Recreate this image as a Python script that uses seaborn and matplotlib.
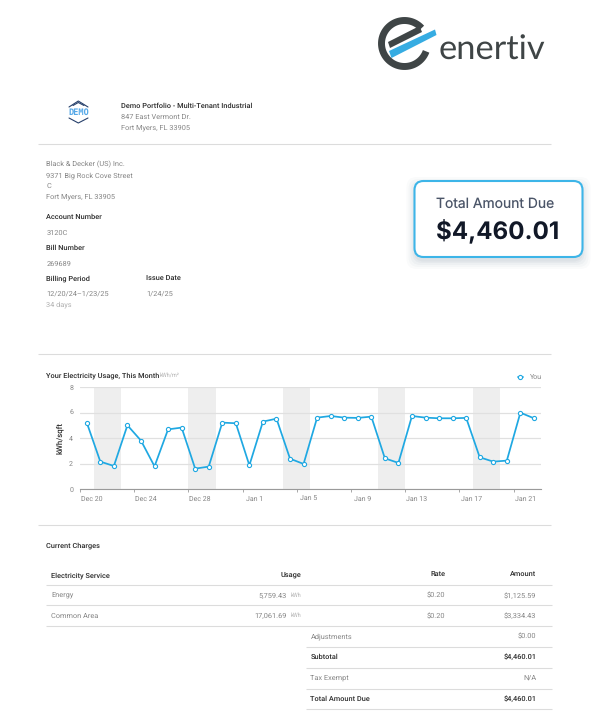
import numpy as np
import pandas as pd
import matplotlib
matplotlib.use("Agg")
import matplotlib.pyplot as plt
from matplotlib.patches import FancyBboxPatch, Polygon
import seaborn as sns

# ---- data ----
days = list(range(34))
usage = [5.23, 2.17, 1.83, 5.02, 3.82, 1.80, 4.70, 4.84, 1.62, 1.78, 5.23, 5.18,
         1.88, 5.31, 5.54, 2.40, 1.99, 5.62, 5.75, 5.62, 5.60, 5.70, 2.43, 2.07,
         5.75, 5.62, 5.57, 5.57, 5.60, 2.51, 2.17, 2.25, 6.01, 5.57]
weekend_days = [1, 2, 8, 9, 15, 16, 22, 23, 29, 30]
tick_days = [0, 4, 8, 12, 16, 20, 24, 28, 32]
tick_labels = ["Dec 20", "Dec 24", "Dec 28", "Jan 1", "Jan 5", "Jan 9", "Jan 13", "Jan 17", "Jan 21"]
y_ticks = [0, 2, 4, 6, 8]

site_lines = ["847 East Vermont Dr.", "Fort Myers, FL 33905"]
tenant_lines = ["Black & Decker (US) Inc.", "9371 Big Rock Cove Street", "C", "Fort Myers, FL 33905"]
service_rows = [("Energy", "5,759.43", "$0.20", "$1,125.59"),
                ("Common Area", "17,061.69", "$0.20", "$3,334.43")]
summary_rows = [("Adjustments", "$0.00", False), ("Subtotal", "$4,460.01", True),
                ("Tax Exempt", "N/A", False), ("Total Amount Due", "$4,460.01", True)]

# ---- style ----
W, H = 604, 726
BLUE = "#1fa8e2"
DARK = "#2b2b2b"
GREY = "#858585"
RULE = "#dcdcdc"
sns.set_theme(style="white")
plt.rcParams["font.family"] = ["Roboto", "DejaVu Sans"]
plt.rcParams["text.hinting"] = "no_hinting"
plt.rcParams["text.hinting_factor"] = 8

fig = plt.figure(figsize=(W / 100, H / 100), dpi=100, facecolor="white")

# page layer in pixel coordinates
page = fig.add_axes([0, 0, 1, 1], zorder=0)
page.set_xlim(0, W)
page.set_ylim(H, 0)
page.axis("off")

BODY = 5.3


def txt(x, y, s, size=BODY, color=GREY, weight="normal", ha="left", **kw):
    page.text(x, y + 0.49 * size, s, fontsize=size, color=color, fontweight=weight, ha=ha, va="baseline", **kw)


def rule(y, x0=37.5, x1=551, color=RULE, lw=0.8):
    page.plot([x0, x1], [y, y], color=color, lw=lw, solid_capstyle="butt")


# enertiv logo
LOGO_DARK = "#3f4546"
theta = np.radians(np.linspace(-20, -318, 80))
arc_x = 404.5 + 23 * np.cos(theta)
arc_y = 43.5 - 23 * np.sin(theta)
page.plot(arc_x, arc_y, color=LOGO_DARK, lw=5.0, solid_capstyle="butt")
page.add_patch(Polygon([[419.5, 26], [422, 32], [390, 48], [388, 42]], closed=True, fc=LOGO_DARK, ec="none"))
page.add_patch(Polygon([[389, 51], [435, 29.5], [436.5, 35], [391.5, 58]], closed=True, fc="#36ace2", ec="none"))
page.text(438.5, 59.5, "enertiv", fontsize=24.8, color=LOGO_DARK, family="Lato", fontweight="normal", ha="left", va="baseline")

# demo badge
NAVY = "#27406b"
for pts in ([(69, 107), (78.3, 101), (88, 107)], [(73, 105.5), (78.3, 102.5), (84, 105.5)],
            [(69, 118), (78.3, 123), (88, 118)]):
    page.plot(*zip(*pts), color=NAVY, lw=0.8)
txt(78.3, 112, "DEMO", size=6.2, color="#55a8e8", weight="bold", ha="center", family="DejaVu Sans Mono")

# header block
STRONG = "medium"
txt(121, 105.5, "Demo Portfolio - Multi-Tenant Industrial", color=DARK, weight=STRONG)
for y, s in zip([116, 126.5], site_lines):
    txt(121, y, s)
rule(144)
for y, s in zip([164, 175, 185.5, 196], tenant_lines):
    txt(46.5, y, s)
txt(46.5, 216.7, "Account Number", color=DARK, weight=STRONG)
txt(46.5, 232, "3120C")
txt(46.5, 247, "Bill Number", color=DARK, weight=STRONG)
txt(46.5, 263, "269689")
txt(46.5, 278, "Billing Period", color=DARK, weight=STRONG)
txt(146.3, 278, "Issue Date", color=DARK, weight=STRONG)
txt(46.5, 293, "12/20/24\u20131/23/25")
txt(146.3, 293, "1/24/25")
txt(46.5, 303.5, "34 days", color="#b0b0b0")

# amount card
for grow, alpha in zip([9, 7, 5, 3, 1.5], [0.02, 0.025, 0.03, 0.035, 0.04]):
    page.add_patch(FancyBboxPatch((414.5 - grow + 1, 181 - grow + 5), 168 + 2 * grow - 2, 76 + 2 * grow - 2,
                                  boxstyle="round,pad=0,rounding_size=10", fc="#1f3a5a", ec="none", alpha=alpha))
page.add_patch(FancyBboxPatch((414.5, 181), 168, 76, boxstyle="round,pad=0,rounding_size=9",
                              fc="white", ec="#3db5e8", lw=1.5))
txt(436, 203, "Total Amount Due", size=10, color="#4b5568", family="Inter")
txt(436, 230.5, "$4,460.01", size=17.4, color="#111827", weight="bold", family="Inter")

# chart section
rule(354)
rule(525)
txt(46.5, 374.5, "Your Electricity Usage, This Month", color=DARK, weight=STRONG)
txt(160, 374.5, "kWh/m\u00b2", size=4.0, color="#b0b0b0")

# charges table
txt(46.5, 545, "Current Charges", color=DARK, weight=STRONG)
txt(51, 574.5, "Electricity Service", color=DARK, weight=STRONG)
txt(301, 574.5, "Usage", color=DARK, weight=STRONG, ha="right")
txt(445, 574.5, "Rate", color=DARK, weight=STRONG, ha="right")
txt(536.5, 574.5, "Amount", color=DARK, weight=STRONG, ha="right")
rule(584.5, 46, 552)
for y, rule_y, (name, kwh, rate, amount) in zip([595, 615.5], [605, 626], service_rows):
    txt(51, y, name)
    txt(287, y, kwh, ha="right")
    txt(301, y, "kWh", size=4.0, color="#b0b0b0", ha="right")
    txt(445, y, rate, ha="right")
    txt(536.5, y, amount, ha="right")
    rule(rule_y, 46, 552)
for y, rule_y, (name, amount, strong) in zip([636, 656.5, 677.5, 698.5], [646.5, 667.5, 688.5, 709], summary_rows):
    c, w = (DARK, STRONG) if strong else (GREY, "normal")
    txt(310.5, y, name, color=c, weight=w)
    txt(536.5, y, amount, color=c, weight=w, ha="right")
    rule(rule_y, 305.5, 552)

# usage chart
ax_l, ax_r, ax_t, ax_b = 80, 540.7, 387.3, 489.3
ax = fig.add_axes([ax_l / W, 1 - ax_b / H, (ax_r - ax_l) / W, (ax_b - ax_t) / H], zorder=1)
ax.patch.set_alpha(0)
df = pd.DataFrame({"day": days, "usage": usage})
for d in weekend_days:
    ax.axvspan(d - 0.5, d + 0.5, color="#eeeeee", lw=0, zorder=0)
for v in y_ticks:
    ax.axhline(v, color="#e0e0e0", lw=0.9, zorder=0.5)
sns.lineplot(data=df, x="day", y="usage", ax=ax, color=BLUE, lw=1.25, marker="o", markersize=3.0,
             markerfacecolor="white", markeredgecolor=BLUE, markeredgewidth=0.8, label="You", zorder=3)
ax.set_xlim(days[0] - 0.5, days[-1] + 0.5)
ax.set_ylim(y_ticks[0], y_ticks[-1])
for s in ("top", "right", "left"):
    ax.spines[s].set_visible(False)
ax.spines["bottom"].set_color("#9a9a9a")
ax.spines["bottom"].set_linewidth(0.8)
ax.set_xticks([d - 0.5 for d in tick_days])
ax.set_xticklabels([])
ax.set_xticks([d + 0.37 for d in tick_days], minor=True)
ax.set_xticklabels(tick_labels, minor=True, fontsize=5.0, color=GREY)
ax.tick_params(axis="x", which="major", length=2, width=0.6, color="#9a9a9a", bottom=True)
ax.tick_params(axis="x", which="minor", length=0, pad=4.5, bottom=False)
ax.set_yticks(y_ticks)
ax.tick_params(axis="y", length=0, labelsize=5.0, labelcolor=GREY, pad=5)
ax.set_xlabel("")
ax.set_ylabel("kWh/sqft", fontsize=5.6, color=DARK, fontweight="medium", labelpad=4)
leg = ax.legend(loc="center right", bbox_to_anchor=(1.002, 1.095), frameon=False, fontsize=5.0,
                handlelength=0.7, handletextpad=1.0, borderaxespad=0, borderpad=0)
for t in leg.get_texts():
    t.set_color(GREY)

fig.savefig("out.png", dpi=100)
